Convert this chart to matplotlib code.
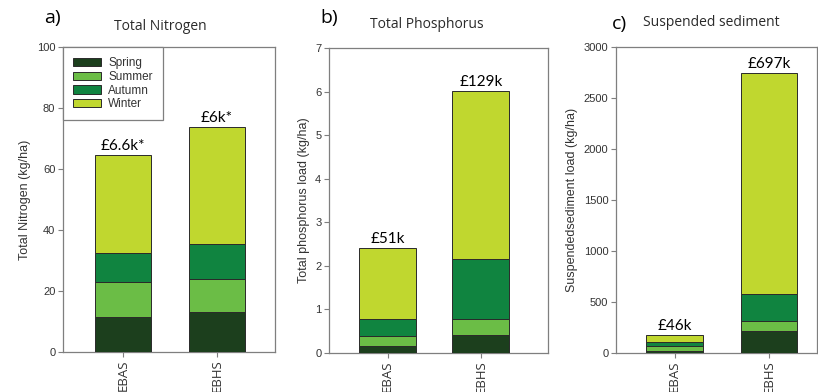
import matplotlib
matplotlib.use("Agg")
import matplotlib.pyplot as plt
import numpy as np

sites = ["EBAS", "EBHS"]
seasons = ["Spring", "Summer", "Autumn", "Winter"]
colors = ["#1c3f1d", "#6bbd46", "#108440", "#c0d72f"]

# Nitrogen (kg/ha), per season for EBAS, EBHS
n_spring = [11.5, 13.2]
n_summer = [11.5, 10.8]
n_autumn = [9.3, 11.5]
n_winter = [32.2, 38.2]
n_costs = ["£6.6k*", "£6k*"]

# Phosphorus (kg/ha)
p_spring = [0.15, 0.42]
p_summer = [0.23, 0.36]
p_autumn = [0.41, 1.38]
p_winter = [1.61, 3.86]
p_costs = ["£51k", "£129k"]

# Suspended sediment (kg/ha)
s_spring = [16, 219]
s_summer = [56, 95]
s_autumn = [36, 268]
s_winter = [69, 2163]
s_costs = ["£46k", "£697k"]

W, H = 818, 392
fig = plt.figure(figsize=(W / 100, H / 100), dpi=100)

tick_font = "Liberation Sans"
note_font = "Lato"
spine_col = "#7f7f7f"
text_col = "#333333"


def ax_rect(l, r, t, b):
    return [l / W, 1 - b / H, (r - l) / W, (b - t) / H]


def panel(rect, data, costs, ylim, yticks, ylabel, xlim, width, letter, letter_xy, title, title_xy):
    ax = fig.add_axes(rect)
    x = np.arange(len(sites))
    bottom = np.zeros(len(sites))
    for vals, col, lab in zip(data, colors, seasons):
        ax.bar(x, vals, width, bottom=bottom, color=col, edgecolor="#2a2a2a",
               linewidth=0.7, label=lab, zorder=3)
        bottom = bottom + np.array(vals)
    for xi, tot, c in zip(x, bottom, costs):
        ax.annotate(c, (xi, tot), xytext=(0, 1.5), textcoords="offset points",
                    ha="center", va="bottom", fontsize=11, family=note_font, color="black")
    ax.set_xlim(*xlim)
    ax.set_ylim(*ylim)
    ax.set_yticks(yticks)
    ax.set_yticklabels([str(v) for v in yticks], family=tick_font, fontsize=8, color=text_col)
    ax.set_xticks(x)
    ax.set_xticklabels(sites, rotation=90, family="Open Sans", fontsize=9.5, color=text_col)
    ax.set_ylabel(ylabel, family=tick_font, fontsize=9, color=text_col, labelpad=4)
    for s in ax.spines.values():
        s.set_color(spine_col)
        s.set_linewidth(0.9)
    ax.tick_params(axis="both", direction="out", length=3.5, width=0.8, color=spine_col, pad=2)
    fig.text(letter_xy[0] / W, 1 - letter_xy[1] / H, letter, fontsize=14,
             family="Open Sans", ha="left", va="center")
    fig.text(title_xy[0] / W, 1 - title_xy[1] / H, title, fontsize=10,
             family="Open Sans", ha="center", va="center", color="#2a2a2a")
    return ax


axa = panel(ax_rect(63, 275, 47, 352), [n_spring, n_summer, n_autumn, n_winter], n_costs,
            (0, 100), [0, 20, 40, 60, 80, 100], "Total Nitrogen (kg/ha)",
            (-0.64, 1.62), 0.6, "a)", (44, 18), "Total Nitrogen", (160, 26))
leg = axa.legend(loc="upper left", bbox_to_anchor=(0, 1), borderaxespad=0, fancybox=False,
                 prop={"family": tick_font, "size": 8.5}, handlelength=2.4, handleheight=0.7,
                 labelspacing=0.15, handletextpad=0.6, borderpad=0.85, framealpha=1)
leg.get_frame().set_edgecolor(spine_col)
leg.get_frame().set_linewidth(0.9)
for t in leg.get_texts():
    t.set_color(text_col)

panel(ax_rect(329, 548, 48, 353), [p_spring, p_summer, p_autumn, p_winter], p_costs,
      (0, 7), [0, 1, 2, 3, 4, 5, 6, 7], "Total phosphorus load (kg/ha)",
      (-0.626, 1.717), 0.61, "b)", (320, 18), "Total Phosphorus", (427, 25))

panel(ax_rect(616, 817, 47, 353), [s_spring, s_summer, s_autumn, s_winter], s_costs,
      (0, 3000), [0, 500, 1000, 1500, 2000, 2500, 3000], "Suspendedsediment load (kg/ha)",
      (-0.62, 1.51), 0.6, "c)", (612, 24), "Suspended sediment", (711, 23))

fig.savefig("out.png", dpi=100)
